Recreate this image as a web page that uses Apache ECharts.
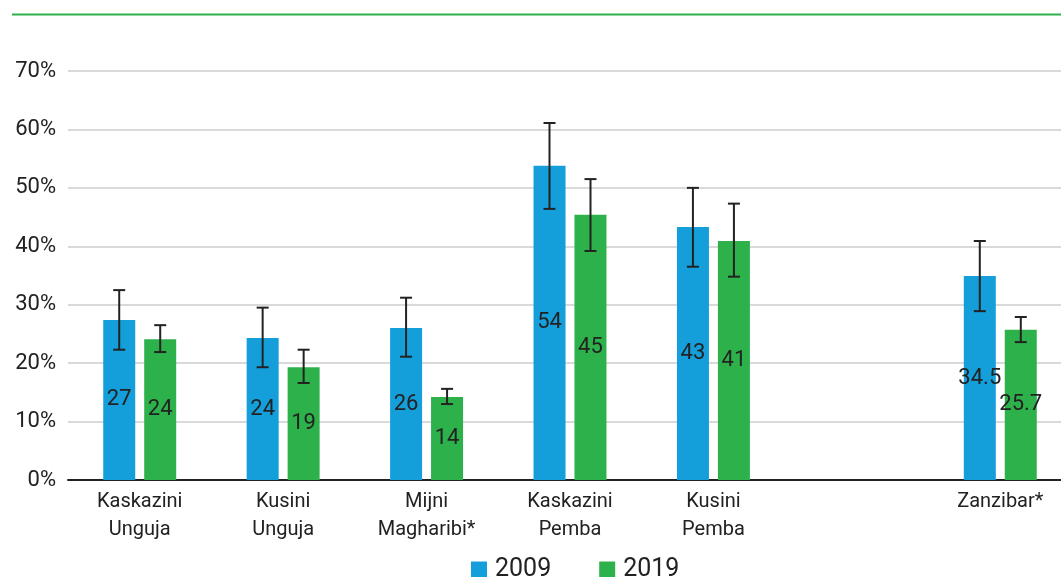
<!DOCTYPE html>
<html><head><meta charset="utf-8">
<script src="https://cdn.jsdelivr.net/npm/echarts@6/dist/echarts.min.js"></script>
<style>html,body{margin:0;padding:0;background:#fff}#c{width:1061px;height:577px}</style>
</head><body><div id="c"></div>
<script>
const categories = ['Kaskazini\nUnguja', 'Kusini\nUnguja', 'Mijni\nMagharibi*', 'Kaskazini\nPemba', 'Kusini\nPemba', '', 'Zanzibar*'];
const values2009 = [27.4, 24.3, 26.0, 53.8, 43.3, null, 34.9];
const labels2009 = ['27', '24', '26', '54', '43', '', '34.5'];
const low2009 = [22.3, 19.3, 21.1, 46.4, 36.5, null, 28.9];
const high2009 = [32.5, 29.5, 31.2, 61.1, 50.0, null, 40.9];
const values2019 = [24.1, 19.3, 14.2, 45.4, 40.9, null, 25.7];
const labels2019 = ['24', '19', '14', '45', '41', '', '25.7'];
const low2019 = [21.9, 16.6, 13.0, 39.2, 34.8, null, 23.6];
const high2019 = [26.5, 22.3, 15.6, 51.5, 47.3, null, 27.9];
const yTicks = [0, 10, 20, 30, 40, 50, 60, 70];

const BLUE = '#149fdb', GREEN = '#2db24b', INK = '#222';
const chart = echarts.init(document.getElementById('c'));
function errSeries(low, high, offset) {
  const data = categories.map((c, i) => low[i] == null ? null : [i, low[i], high[i]]).filter(d => d);
  return {
    type: 'custom', z: 10, data: data,
    renderItem: function (params, api) {
      const x = api.value(0);
      const lo = api.coord([x, api.value(1)]);
      const hi = api.coord([x, api.value(2)]);
      const cx = lo[0] + offset;
      const w = 6;
      const st = { stroke: INK, lineWidth: 2 };
      return { type: 'group', children: [
        { type: 'line', shape: { x1: cx, y1: hi[1], x2: cx, y2: lo[1] }, style: st },
        { type: 'line', shape: { x1: cx - w, y1: hi[1], x2: cx + w, y2: hi[1] }, style: st },
        { type: 'line', shape: { x1: cx - w, y1: lo[1], x2: cx + w, y2: lo[1] }, style: st }
      ]};
    }
  };
}
const lblStyle = { show: true, position: 'inside', color: INK, fontSize: 22, fontFamily: 'Roboto' };
chart.setOption({
  animation: false,
  textStyle: { fontFamily: 'Roboto' },
  graphic: [{ type: 'line', shape: { x1: 12, y1: 14.5, x2: 1061, y2: 14.5 }, style: { stroke: GREEN, lineWidth: 2 } }],
  grid: { left: 68, width: 1004, top: 71, bottom: 97, containLabel: false, outerBoundsMode: 'none' },
  legend: {
    bottom: -10, left: 466, itemWidth: 16, itemHeight: 16, itemGap: 48, icon: 'rect',
    textStyle: { fontSize: 25, color: INK, fontFamily: 'Roboto', padding: [0, 0, 0, 3] },
    data: ['2009', '2019']
  },
  xAxis: {
    type: 'category', data: categories,
    axisLine: { lineStyle: { color: INK, width: 2 } },
    axisTick: { show: false },
    axisLabel: { fontSize: 20, color: INK, lineHeight: 28, margin: 8, interval: 0 }
  },
  yAxis: {
    type: 'value', min: 0, max: 70, interval: 10,
    axisLabel: { formatter: v => yTicks.includes(v) ? v + '%' : '', fontSize: 22, color: INK, margin: 12 },
    splitLine: { lineStyle: { color: '#d9d9d9', width: 2 } },
    axisLine: { show: false }, axisTick: { show: false }
  },
  series: [
    { name: '2009', type: 'bar', data: values2009, barWidth: 32, barGap: '28%', itemStyle: { color: BLUE },
      label: Object.assign({}, lblStyle, { formatter: p => labels2009[p.dataIndex] }) },
    { name: '2019', type: 'bar', data: values2019, barWidth: 32, itemStyle: { color: GREEN },
      label: Object.assign({}, lblStyle, { formatter: p => labels2019[p.dataIndex] }) },
    errSeries(low2009, high2009, -20.5),
    errSeries(low2019, high2019, 20.5)
  ]
});
</script></body></html>
